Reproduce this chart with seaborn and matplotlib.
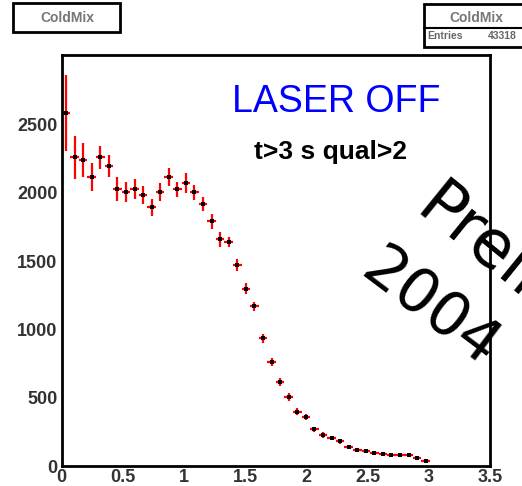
import numpy as np
import pandas as pd
import matplotlib
matplotlib.use("Agg")
import matplotlib.pyplot as plt
from matplotlib.patches import Rectangle
from matplotlib.lines import Line2D
from matplotlib.ticker import MultipleLocator
import seaborn as sns

# ---- data ----
bin_centers = [0.035, 0.105, 0.175, 0.245, 0.315, 0.385, 0.455, 0.525, 0.595, 0.665,
               0.735, 0.805, 0.875, 0.945, 1.015, 1.085, 1.155, 1.225, 1.295, 1.365,
               1.435, 1.505, 1.575, 1.645, 1.715, 1.785, 1.855, 1.925, 1.995, 2.065,
               2.135, 2.205, 2.275, 2.345, 2.415, 2.485, 2.555, 2.625, 2.695, 2.765,
               2.835, 2.905, 2.975]
counts = [2586, 2261, 2242, 2115, 2261, 2198, 2029, 2005, 2027, 1983,
          1895, 2005, 2115, 2027, 2071, 2005, 1919, 1793, 1661, 1639,
          1470, 1299, 1170, 935, 760, 615, 503, 398, 357, 269,
          227, 205, 181, 141, 115, 112, 97, 88, 78, 78,
          78, 56, 37]
errors = [278, 159, 127, 104, 83, 83, 88, 75, 75, 65,
          61, 65, 67, 55, 73, 55, 52, 55, 54, 38,
          44, 39, 33, 32, 30, 30, 28, 25, 22, 20,
          20, 18, 18, 15, 15, 12, 12, 12, 10, 10,
          10, 10, 10]
bin_half_width = 0.035

x_ticks = [0, 0.5, 1, 1.5, 2, 2.5, 3, 3.5]
x_tick_labels = ["0", "0.5", "1", "1.5", "2", "2.5", "3", "3.5"]
y_ticks = [0, 500, 1000, 1500, 2000, 2500]
y_tick_labels = ["0", "500", "1000", "1500", "2000", "2500"]

title_text = "ColdMix"
stats_entries_label = "Entries"
stats_entries_value = "43318"
main_label = "LASER OFF"
cut_label = "t>3 s qual>2"
prelim_line1 = "Preliminary"
prelim_line2 = "2004"

df = pd.DataFrame({"x": bin_centers, "y": counts, "err": errors})

# ---- figure ----
sns.set_style("white")
plt.rcParams['font.family'] = ['Liberation Sans', 'DejaVu Sans']

W, H = 522, 486
fig = plt.figure(figsize=(W / 100, H / 100), dpi=100)
fig.patch.set_facecolor("white")


def fx(px):
    return px / W


def fy(py):
    return 1 - py / H


ax_l, ax_r, ax_t, ax_b = 61.7, 490, 55, 466
ax = fig.add_axes([fx(ax_l), fy(ax_b), (ax_r - ax_l) / W, (ax_b - ax_t) / H])
ax.set_facecolor("white")

ax.errorbar(df["x"], df["y"], yerr=df["err"], xerr=bin_half_width, fmt="none",
            ecolor="#ff0000", elinewidth=1.6, capsize=0, zorder=2)
sns.scatterplot(data=df, x="x", y="y", marker="s", s=9, color="black",
                linewidth=0, ax=ax, zorder=3, legend=False)

ax.set_xlim(0, 3.5)
ax.set_ylim(0, 3010)
ax.set_xlabel("")
ax.set_ylabel("")

ax.set_xticks(x_ticks)
ax.set_xticklabels(x_tick_labels)
ax.set_yticks(y_ticks)
ax.set_yticklabels(y_tick_labels)
ax.xaxis.set_minor_locator(MultipleLocator(0.1))
ax.yaxis.set_minor_locator(MultipleLocator(100))

for s in ax.spines.values():
    s.set_visible(True)
    s.set_color("black")
    s.set_linewidth(2.0)

ax.tick_params(axis="both", which="both", direction="in", top=False, right=False,
               color="black", width=1.5)
ax.tick_params(axis="x", which="major", length=10, pad=2)
ax.tick_params(axis="x", which="minor", length=7)
ax.tick_params(axis="y", which="major", length=12, pad=3)
ax.tick_params(axis="y", which="minor", length=7.5)
for lab in ax.get_xticklabels() + ax.get_yticklabels():
    lab.set_fontsize(13)
    lab.set_fontweight("bold")
    lab.set_color("#333333")

# ---- texts inside the pad ----
fig.text(fx(336), fy(112), main_label, color="#0000ff", fontsize=27,
         ha="center", va="baseline", family="Liberation Sans")
fig.text(fx(331), fy(159), cut_label, color="black", fontsize=19,
         fontweight="bold", ha="center", va="baseline", family="Liberation Sans")

fig.text(fx(413), fy(213), prelim_line1, color="black", fontsize=47,
         rotation=-39, rotation_mode="anchor", ha="left", va="baseline",
         family="DejaVu Sans", zorder=5)
fig.text(fx(358.3), fy(275), prelim_line2, color="black", fontsize=44,
         rotation=-37, rotation_mode="anchor", ha="left", va="baseline",
         family="DejaVu Sans", zorder=5)

# ---- title box (top left) ----
fig.add_artist(Rectangle((fx(13), fy(32)), (120 - 13) / W, (32 - 3) / H,
                         transform=fig.transFigure, facecolor="white",
                         edgecolor="black", linewidth=2.0, zorder=6))
fig.text(fx(67), fy(17.5), title_text, color="#777777", fontsize=10,
         fontweight="bold", ha="center", va="center", zorder=7)

# ---- stats box (top right) ----
fig.add_artist(Rectangle((fx(424), fy(47)), (540 - 424) / W, (47 - 4) / H,
                         transform=fig.transFigure, facecolor="white",
                         edgecolor="black", linewidth=2.0, zorder=6))
fig.add_artist(Line2D([fx(424), fx(522)], [fy(28), fy(28)],
                      transform=fig.transFigure, color="black", linewidth=1.5, zorder=7))
fig.text(fx(476), fy(17.5), title_text, color="#777777", fontsize=10,
         fontweight="bold", ha="center", va="center", zorder=7)
fig.text(fx(427), fy(36), stats_entries_label, color="#666666", fontsize=7.5,
         fontweight="bold", ha="left", va="center", zorder=7)
fig.text(fx(488), fy(36), stats_entries_value, color="#666666", fontsize=7.5,
         fontweight="bold", ha="left", va="center", zorder=7)

fig.savefig("out.png", dpi=100, facecolor="white")
